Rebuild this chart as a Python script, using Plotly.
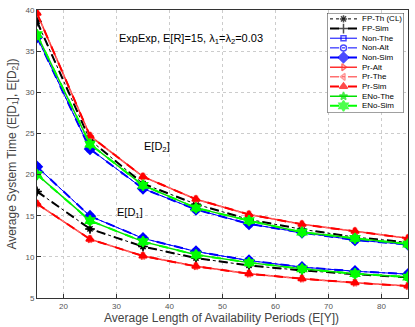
import plotly.graph_objects as go

x_vals = [15, 25, 35, 45, 55, 65, 75, 85]

# E[D2] curves
fp_d2 = [38.6, 24.2, 18.9, 16.4, 14.55, 13.35, 12.4, 11.75]
non_d2 = [36.7, 23.1, 18.3, 15.75, 14.0, 12.95, 12.05, 11.5]
pr_d2 = [39.6, 24.7, 19.75, 17.0, 15.15, 13.95, 13.1, 12.25]
eno_d2 = [37.0, 23.7, 18.7, 15.95, 14.4, 13.0, 12.25, 11.55]

# E[D1] curves
fp_d1 = [17.95, 13.4, 11.25, 9.85, 8.95, 8.35, 7.9, 7.5]
non_d1 = [20.95, 14.95, 12.25, 10.65, 9.55, 8.75, 8.25, 7.9]
pr_d1 = [16.45, 12.15, 10.1, 8.85, 7.95, 7.35, 6.85, 6.45]
eno_d1 = [20.0, 14.4, 11.85, 10.25, 9.3, 8.55, 7.95, 7.55]

x_ticks = [20, 30, 40, 50, 60, 70, 80]
y_ticks = [5, 10, 15, 20, 25, 30, 35, 40]

series = [
    ("FP-Th (CL)", fp_d1, fp_d2, "black", "dot", 1, "asterisk-open", 6, "black"),
    ("FP-Sim", fp_d1, fp_d2, "black", "dash", 2, "cross-thin-open", 7, "black"),
    ("Non-The", non_d1, non_d2, "#0000ff", "solid", 1, "square-open", 5, "#0000ff"),
    ("Non-Alt", non_d1, non_d2, "#0000ff", "dashdot", 1, "circle-open", 6, "#0000ff"),
    ("Non-Sim", non_d1, non_d2, "#0000ff", "dash", 2, "diamond", 8, "#0000ff"),
    ("Pr-Alt", pr_d1, pr_d2, "#ff3030", "solid", 1.5, "triangle-right-open", 6, "#ff3030"),
    ("Pr-The", pr_d1, pr_d2, "#ff7070", "dashdot", 1.5, "triangle-left-open", 6, "#ff7070"),
    ("Pr-Sim", pr_d1, pr_d2, "#ff0000", "dash", 2, "triangle-up", 7, "#ff0000"),
    ("ENo-The", eno_d1, eno_d2, "#00e000", "solid", 1.5, "star", 6, "#00e000"),
    ("ENo-Sim", eno_d1, eno_d2, "#00ff00", "dash", 2, "hexagram", 8, "#00ff00"),
]

fig = go.Figure()
for name, d1, d2, col, dash, w, sym, ms, mcol in series:
    for d in (d2, d1):
        fig.add_trace(go.Scatter(
            x=x_vals, y=d, mode="lines+markers", name=name, showlegend=False,
            line=dict(color=col, dash=dash, width=w),
            marker=dict(symbol=sym, size=ms, color=mcol,
                        line=dict(color=mcol, width=1.5)),
            xaxis="x", yaxis="y",
        ))

# compact legend drawn on an auxiliary axis (pixel-like units)
LW, LH = 77, 101
step = 9.8
for i, (name, d1, d2, col, dash, w, sym, ms, mcol) in enumerate(series):
    yc = 6 + step * i
    fig.add_trace(go.Scatter(
        x=[3, 16.5, 30], y=[yc, yc, yc], mode="lines+markers",
        line=dict(color=col, dash=dash, width=w),
        marker=dict(symbol=sym, size=[0, ms, 0], color=mcol,
                    line=dict(color=mcol, width=1.5)),
        showlegend=False, hoverinfo="skip", xaxis="x2", yaxis="y2",
    ))
    fig.add_annotation(x=33, y=yc, xref="x2", yref="y2", text=name,
                       xanchor="left", yanchor="middle", showarrow=False,
                       font=dict(size=8, color="black"))

fig.add_shape(type="rect", xref="x2", yref="y2", x0=0, x1=LW, y0=0, y1=LH,
              line=dict(color="#333", width=1), fillcolor="white",
              layer="between")

fig.add_annotation(x=30, y=36.5, xanchor="left", yanchor="middle",
                   text="ExpExp, E[R]=15, λ<sub>1</sub>=λ<sub>2</sub>=0.03",
                   showarrow=False, font=dict(size=11, color="black"))
fig.add_annotation(x=34.8, y=23.4, xanchor="left", yanchor="middle",
                   text="E[D<sub>2</sub>]", showarrow=False,
                   font=dict(size=11, color="black"))
fig.add_annotation(x=29.7, y=15.3, xanchor="left", yanchor="middle",
                   text="E[D<sub>1</sub>]", showarrow=False,
                   font=dict(size=11, color="black"))
fig.add_annotation(x=0.496, y=0, xref="paper", yref="paper", yshift=-20,
                   xanchor="center", yanchor="middle", showarrow=False,
                   text="Average Length of Availability Periods (E[Y])",
                   font=dict(size=12, color="#444"))

axis_common = dict(showline=True, linecolor="#333", linewidth=1, mirror=True,
                   showgrid=True, gridcolor="#cccccc", griddash="dot",
                   gridwidth=1, zeroline=False, ticks="inside", ticklen=4,
                   tickcolor="#333", tickfont=dict(size=8, color="#555"))

fig.update_layout(
    width=415, height=327,
    margin=dict(l=37, r=7, t=6, b=29),
    paper_bgcolor="white", plot_bgcolor="white",
    font=dict(family="Liberation Sans, Arial, sans-serif"),
    showlegend=False,
    xaxis=dict(range=[15, 85], tickvals=x_ticks, domain=[0, 1], **axis_common),
    yaxis=dict(range=[5, 40], tickvals=y_ticks, domain=[0, 1],
               title=dict(text="Average System Time (E[D<sub>1</sub>], E[D<sub>2</sub>])",
                          font=dict(size=12, color="#444"), standoff=6),
               **axis_common),
    xaxis2=dict(domain=[(327 - 37) / 371, (404 - 37) / 371], range=[0, LW],
                visible=False, anchor="y2", fixedrange=True),
    yaxis2=dict(domain=[1 - 104 / 292, 1 - 3 / 292], range=[LH, 0],
                visible=False, anchor="x2", fixedrange=True),
)

fig.write_html("out.html", config={"displayModeBar": False},
               post_script="document.body.style.margin='0';"
                           "document.body.style.overflow='hidden';")
